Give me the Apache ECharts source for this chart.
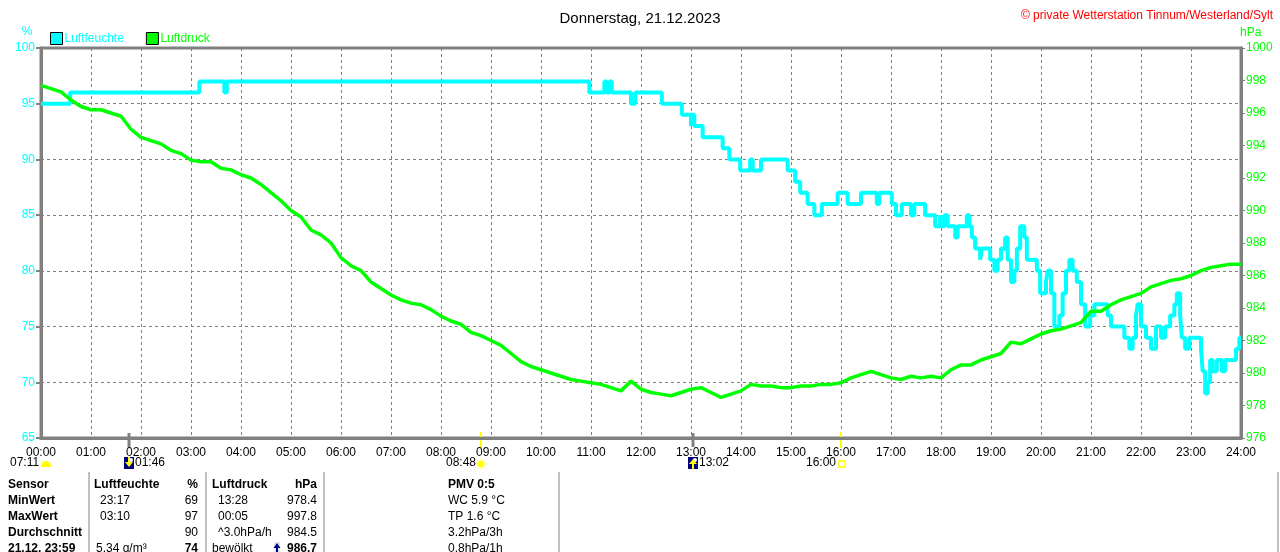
<!DOCTYPE html>
<html>
<head>
<meta charset="utf-8">
<title>Donnerstag, 21.12.2023</title>
<script src="https://cdn.jsdelivr.net/npm/echarts@6/dist/echarts.min.js"></script>
<style>
html, body { margin: 0; padding: 0; background: #fff; }
#main { width: 1280px; height: 552px; }
</style>
</head>
<body>
<div id="main"></div>
<script>
// Luftfeuchte (%): Zeitpunkte der Wertänderung und neuer Wert
var humTimes = ['00:00','00:35','03:10','03:40','03:43','10:58','11:16','11:19','11:22','11:25','11:48','11:53',
    '12:25','12:49','13:00','13:01','13:04','13:14','13:38','13:46','13:59','14:11','14:14','14:24','14:56',
    '15:05','15:11','15:20','15:28','15:37','15:56','16:08','16:24','16:43','16:46','17:01','17:06','17:13',
    '17:24','17:28','17:41','17:53','17:59','18:01','18:04','18:08','18:17','18:20','18:31','18:34','18:37',
    '18:41','18:47','18:49','18:59','19:04','19:08','19:12','19:17','19:20','19:24','19:28','19:31','19:35',
    '19:40','19:43','19:55','19:59','20:06','20:08','20:12','20:16','20:22','20:26','20:30','20:34','20:38',
    '20:43','20:48','20:53','20:59','21:04','21:20','21:24','21:40','21:46','21:50','21:54','21:56','22:00',
    '22:06','22:12','22:18','22:24','22:29','22:35','22:40','22:43','22:47','22:49','22:53','22:58','23:12',
    '23:14','23:17','23:20','23:23','23:26','23:31','23:37','23:41','23:54','23:58','24:00'];
var humValues = [95,96,97,96,97,96,97,96,97,96,95,96,
    95,94,93,94,93,92,91,90,89,90,89,90,89,
    88,87,86,85,86,87,86,87,86,87,86,85,86,
    85,86,85,84,85,84,85,84,83,84,85,84,83,
    82,81,82,81,80,81,82,83,81,79,80,82,84,
    83,81,80,78,79,80,78,75,76,78,80,81,80,
    79,77,75,76,77,76,75,74,73,74,76,77,75,
    74,73,75,74,75,76,77,78,76,74,73,74,73,
    71,69,70,72,71,72,71,72,73,74,74];

// Luftdruck (hPa), ein Wert alle 12 Minuten ab 00:00
var pressStepMin = 12;
var pressValues = [
    997.7, 997.5, 997.3, 996.8, 996.4, 996.2, 996.2, 996.0, 995.8, 995.0,
    994.5, 994.3, 994.1, 993.7, 993.5, 993.1, 993.0, 993.0, 992.6, 992.5,
    992.2, 992.0, 991.6, 991.1, 990.6, 990.0, 989.6, 988.8, 988.5, 988.0,
    987.1, 986.6, 986.3, 985.6, 985.2, 984.8, 984.5, 984.3, 984.2, 983.9,
    983.5, 983.2, 983.0, 982.5, 982.3, 982.0, 981.7, 981.2, 980.7, 980.4,
    980.2, 980.0, 979.8, 979.6, 979.5, 979.4, 979.3, 979.1, 978.9, 979.5,
    979.0, 978.8, 978.7, 978.6, 978.8, 979.0, 979.1, 978.8, 978.5, 978.7,
    978.9, 979.3, 979.2, 979.2, 979.1, 979.1, 979.2, 979.2, 979.3, 979.3,
    979.4, 979.7, 979.9, 980.1, 979.9, 979.7, 979.6, 979.8, 979.7, 979.8,
    979.7, 980.2, 980.5, 980.5, 980.8, 981.0, 981.2, 981.9, 981.8, 982.1,
    982.4, 982.6, 982.7, 982.9, 983.1, 983.8, 983.8, 984.2, 984.5, 984.7,
    984.9, 985.3, 985.5, 985.7, 985.8, 986.0, 986.3, 986.5, 986.6, 986.7,
    986.7];

// Astronomische Zeiten unter der Zeitachse
var dawnLabel = '07:11';
var moonEvents = [['01:46', 'down'], ['13:02', 'up']];
var sunEvents = [['08:48', 'rise'], ['16:00', 'set']];

// Tabelle
var tableHeader = ['Sensor', 'Luftfeuchte', '%', 'Luftdruck', 'hPa', 'PMV 0:5'];
var rowLabels = ['MinWert', 'MaxWert', 'Durchschnitt', '21.12. 23:59'];
var humTimeCol = ['23:17', '03:10', '', '5.34 g/m³'];
var humValCol = ['69', '97', '90', '74'];
var pressTimeCol = ['13:28', '00:05', '^3.0hPa/h', 'bewölkt'];
var pressValCol = ['978.4', '997.8', '984.5', '986.7'];
var extraCol = ['WC 5.9 °C', 'TP 1.6 °C', '3.2hPa/3h', '0.8hPa/1h'];

var FONT = '"Liberation Sans", Arial, sans-serif';
var CYAN = '#00ffff', GREEN = '#00ff00', GRAY = '#808080';

function toMin(s) {
    var p = s.split(':');
    return parseInt(p[0], 10) * 60 + parseInt(p[1], 10);
}
function pad(n) { return (n < 10 ? '0' : '') + n; }

var humData = humTimes.map(function (t, i) { return [toMin(t), humValues[i]]; });
var pressData = pressValues.map(function (v, i) { return [i * pressStepMin, v]; });

var myChart = echarts.init(document.getElementById('main'));

var option = {
    animation: false,
    backgroundColor: '#fff',
    textStyle: { fontFamily: FONT },
    title: [{
        text: 'Donnerstag, 21.12.2023',
        left: 'center', top: 6,
        textStyle: { fontSize: 15, fontWeight: 'normal', color: '#000', fontFamily: FONT }
    }, {
        text: '© private Wetterstation Tinnum/Westerland/Sylt',
        right: 2, top: 5,
        textStyle: { fontSize: 12, fontWeight: 'normal', color: '#ff0000', fontFamily: FONT }
    }],
    legend: {
        left: 50, top: 32, padding: 0,
        icon: 'rect', itemWidth: 12, itemHeight: 12, itemGap: 22,
        itemStyle: { borderColor: '#000', borderWidth: 1 },
        textStyle: { fontSize: 12, fontFamily: FONT, padding: [0, 0, 0, -3] },
        data: [
            { name: 'Luftfeuchte', textStyle: { color: CYAN } },
            { name: 'Luftdruck', textStyle: { color: GREEN } }
        ]
    },
    grid: {
        left: 41, top: 48, width: 1200, height: 390,
        show: true, borderColor: GRAY, borderWidth: 3, backgroundColor: '#fff'
    },
    xAxis: {
        type: 'value', min: 0, max: 1440, interval: 60,
        axisLine: { lineStyle: { color: GRAY, width: 3 } },
        axisTick: { show: false },
        axisLabel: {
            color: '#000', fontSize: 12, fontFamily: FONT, margin: 9,
            formatter: function (v) { return pad(Math.round(v / 60)) + ':00'; }
        },
        splitLine: { show: true, lineStyle: { color: GRAY, width: 1, type: [3, 3] } }
    },
    yAxis: [{
        type: 'value', min: 65, max: 100, interval: 5, position: 'left',
        axisLine: { show: true, lineStyle: { color: GRAY, width: 3 } },
        axisTick: { show: true, length: 5, lineStyle: { color: GRAY, width: 2 } },
        axisLabel: { color: CYAN, fontSize: 12, fontFamily: FONT, margin: 6 },
        splitLine: { show: true, lineStyle: { color: GRAY, width: 1, type: [3, 3] } }
    }, {
        type: 'value', min: 976, max: 1000, interval: 2, position: 'right',
        axisLine: { show: true, lineStyle: { color: GRAY, width: 3 } },
        axisTick: { show: true, length: 4, lineStyle: { color: GRAY, width: 1 } },
        axisLabel: {
            color: GREEN, fontSize: 12, fontFamily: FONT, margin: 5,
            formatter: function (v) { return String(v); }
        },
        splitLine: { show: false }
    }],
    series: [{
        name: 'Luftfeuchte', type: 'line', yAxisIndex: 0,
        step: 'end', showSymbol: false, symbol: 'none',
        data: humData,
        itemStyle: { color: CYAN },
        lineStyle: { color: CYAN, width: 4 },
        z: 3
    }, {
        name: 'Luftdruck', type: 'line', yAxisIndex: 1,
        showSymbol: false, symbol: 'none',
        data: pressData,
        itemStyle: { color: GREEN },
        lineStyle: { color: GREEN, width: 3.5 },
        z: 4
    }]
};
myChart.setOption(option);

// Zusatzelemente: Achsnamen, Sonne/Mond, Tabelle
var g = [];
function txt(x, y, s, opt) {
    opt = opt || {};
    g.push({
        type: 'text', silent: true,
        style: {
            x: x, y: y, text: s,
            fill: opt.color || '#000',
            font: (opt.bold ? 'bold ' : '') + (opt.size || 12) + 'px ' + FONT,
            textAlign: opt.align || 'left',
            textVerticalAlign: 'middle'
        }
    });
}
function line(x1, y1, x2, y2, color, w) {
    g.push({ type: 'line', silent: true, shape: { x1: x1, y1: y1, x2: x2, y2: y2 },
        style: { stroke: color, lineWidth: w } });
}

txt(27, 32, '%', { color: CYAN, align: 'center' });
txt(1240, 33, 'hPa', { color: GREEN });

var yBottom = myChart.convertToPixel({ yAxisIndex: 0 }, 65);
var rowY = 463;

// Dämmerung links
txt(10, rowY, dawnLabel);
g.push({ type: 'sector', silent: true,
    shape: { cx: 46, cy: rowY + 3, r0: 0, r: 5, startAngle: Math.PI, endAngle: 2 * Math.PI },
    style: { fill: '#ffff00' } });
g.push({ type: 'rect', silent: true, shape: { x: 41, y: rowY + 2, width: 10, height: 2 },
    style: { fill: '#ffff00' } });

moonEvents.forEach(function (ev) {
    var px = Math.round(myChart.convertToPixel({ xAxisIndex: 0 }, toMin(ev[0])));
    line(px, yBottom - 5, px, yBottom + 9, GRAY, 3);
    g.push({ type: 'rect', silent: true, shape: { x: px - 5, y: rowY - 6, width: 10, height: 12 },
        style: { fill: '#000080' } });
    g.push({ type: 'circle', silent: true, shape: { cx: px + 2, cy: rowY - 3, r: 2 },
        style: { fill: '#ffffff' } });
    if (ev[1] === 'down') {
        g.push({ type: 'polygon', silent: true,
            shape: { points: [[px - 4, rowY - 1], [px, rowY + 4], [px + 4, rowY - 1]] },
            style: { fill: '#ffff00' } });
        line(px, rowY - 6, px, rowY, '#ffff00', 2);
    } else {
        g.push({ type: 'polygon', silent: true,
            shape: { points: [[px - 4, rowY + 1], [px, rowY - 4], [px + 4, rowY + 1]] },
            style: { fill: '#ffff00' } });
        line(px, rowY, px, rowY + 6, '#ffff00', 2);
    }
    txt(px + 6, rowY, ev[0]);
});

sunEvents.forEach(function (ev) {
    var px = Math.round(myChart.convertToPixel({ xAxisIndex: 0 }, toMin(ev[0])));
    line(px, yBottom - 6, px, yBottom + 10, '#ffff00', 2);
    if (ev[1] === 'rise') {
        g.push({ type: 'circle', silent: true, shape: { cx: px, cy: rowY + 1, r: 3.5 },
            style: { fill: '#ffff00' } });
        for (var k = 0; k < 8; k++) {
            var a = k * Math.PI / 4;
            line(px + Math.cos(a) * 4.5, rowY + 1 + Math.sin(a) * 4.5,
                 px + Math.cos(a) * 6.5, rowY + 1 + Math.sin(a) * 6.5, '#ffff66', 1);
        }
        txt(px - 5, rowY, ev[0], { align: 'right' });
    } else {
        g.push({ type: 'rect', silent: true, shape: { x: px - 2, y: rowY - 2, width: 6, height: 6 },
            style: { fill: '#ffffff', stroke: '#ffff00', lineWidth: 1.5 } });
        txt(px - 5, rowY, ev[0], { align: 'right' });
    }
});

// Trennlinien der Tabelle
[89, 206, 324, 559, 1278].forEach(function (x) {
    line(x, 472, x, 552, GRAY, 1);
});

var tY = [485, 501, 517, 533, 549];
txt(8, tY[0], tableHeader[0], { bold: true });
txt(94, tY[0], tableHeader[1], { bold: true });
txt(198, tY[0], tableHeader[2], { bold: true, align: 'right' });
txt(212, tY[0], tableHeader[3], { bold: true });
txt(317, tY[0], tableHeader[4], { bold: true, align: 'right' });
txt(448, tY[0], tableHeader[5], { bold: true });

rowLabels.forEach(function (lab, i) {
    var y = tY[i + 1];
    var last = i === rowLabels.length - 1;
    txt(8, y, lab, { bold: true });
    txt(last ? 96 : 100, y, humTimeCol[i]);
    txt(198, y, humValCol[i], { align: 'right', bold: last });
    txt(last ? 212 : 218, y, pressTimeCol[i]);
    txt(317, y, pressValCol[i], { align: 'right', bold: last });
    txt(448, y, extraCol[i]);
});
// Tendenzpfeil vor dem aktuellen Luftdruck
g.push({ type: 'rect', silent: true, shape: { x: 274, y: tY[4] - 7, width: 6, height: 13 },
    style: { fill: '#dde8f4' } });
g.push({ type: 'polygon', silent: true,
    shape: { points: [[273.5, tY[4] - 1], [277, tY[4] - 6], [280.5, tY[4] - 1]] },
    style: { fill: '#000080' } });
line(277, tY[4] - 2, 277, tY[4] + 6, '#000080', 2);

myChart.setOption({ graphic: g });
</script>
</body>
</html>
